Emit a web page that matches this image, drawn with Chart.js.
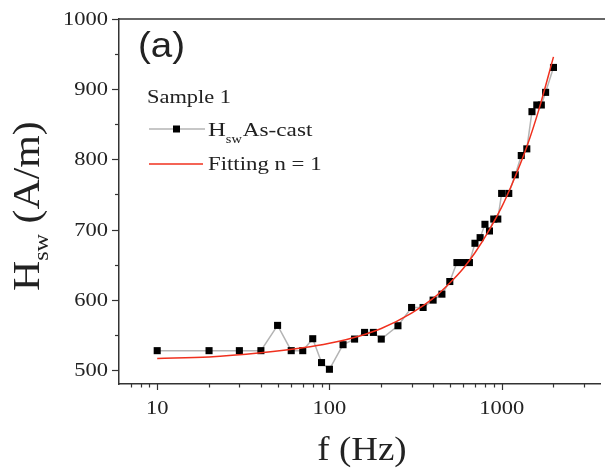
<!DOCTYPE html>
<html><head><meta charset="utf-8">
<script src="https://cdn.jsdelivr.net/npm/chart.js@4"></script>
<style>html,body{margin:0;padding:0;background:#fff;}#wrap{width:605px;height:474px;}</style>
</head><body><div id="wrap"><canvas id="c" width="605" height="474"></canvas></div>
<script>
// ---- data ----
const freq = [10,20,30,40,50,60,70,80,90,100,120,140,160,180,200,250,300,350,400,450,500,550,600,650,700,750,800,850,900,950,1000,1100,1200,1300,1400,1500,1600,1700,1800,2000];
const hsw  = [527.5,527.5,527.5,527.5,563.5,527.5,527.5,544.5,510.5,501,536,544,553.5,553.5,544,563,589,589,599.5,608,626,653,653,653,680.5,688.5,707.5,698,715,715,751.5,751.5,778,805.5,815,868,877.5,877.5,895.5,931];
const fitFreq = [10,20,40,70,100,150,200,300,400,500,600,700,850,1000,1150,1400,1650,2000];
const fitH    = [516.5,518.5,524.5,531.5,538,548.5,559,581,602,624,645,667,700,732,765,818,872,946];
const xTickLabels = [10,100,1000];
const xMinorTicks = [7,8,9,20,30,40,50,60,70,80,90,200,300,400,500,600,700,800,900,2000,3000];
const yTickLabels = [500,600,700,800,900,1000];
const yMinorTicks = [550,650,750,850,950];

const SERIF = '"Liberation Serif","Times New Roman",serif';
const SANS = '"Liberation Sans",Arial,sans-serif';
const INK = '#222';

function txt(ctx, s, x, y, size, sx, align, fam) {
  ctx.save();
  ctx.font = size + 'px ' + (fam || SERIF);
  ctx.fillStyle = INK;
  ctx.textBaseline = 'alphabetic';
  const w = ctx.measureText(s).width * sx;
  let x0 = x;
  if (align === 'center') x0 = x - w / 2;
  else if (align === 'right') x0 = x - w;
  ctx.translate(x0, y);
  ctx.scale(sx, 1);
  ctx.textAlign = 'left';
  ctx.fillText(s, 0, 0);
  ctx.restore();
  return w;
}

const decor = {
  id: 'decor',
  afterDraw(chart) {
    const ctx = chart.ctx;
    const xs = chart.scales.x, ys = chart.scales.y;
    const a = chart.chartArea;
    ctx.save();
    ctx.strokeStyle = '#333';
    ctx.lineWidth = 1.5;
    // top frame line
    ctx.beginPath(); ctx.moveTo(a.left, a.top); ctx.lineTo(605, a.top); ctx.stroke();
    ctx.lineWidth = 1.2;
    // x ticks
    xTickLabels.forEach(v => { const p = Math.round(xs.getPixelForValue(v)) + 0.5; ctx.beginPath(); ctx.moveTo(p, a.bottom); ctx.lineTo(p, a.bottom + 6); ctx.stroke(); });
    xMinorTicks.forEach(v => { const p = Math.round(xs.getPixelForValue(v)) + 0.5; ctx.beginPath(); ctx.moveTo(p, a.bottom); ctx.lineTo(p, a.bottom + 3.5); ctx.stroke(); });
    // y ticks
    yTickLabels.forEach(v => { const p = Math.round(ys.getPixelForValue(v)) + 0.5; ctx.beginPath(); ctx.moveTo(a.left, p); ctx.lineTo(a.left - 7, p); ctx.stroke(); });
    yMinorTicks.forEach(v => { const p = Math.round(ys.getPixelForValue(v)) + 0.5; ctx.beginPath(); ctx.moveTo(a.left, p); ctx.lineTo(a.left - 4, p); ctx.stroke(); });
    ctx.restore();
    // tick labels
    xTickLabels.forEach(v => txt(ctx, String(v), xs.getPixelForValue(v), 414, 18, 1.25, 'center'));
    yTickLabels.forEach(v => txt(ctx, String(v), 108, ys.getPixelForValue(v) + 6, 18, 1.25, 'right'));
    // x title
    txt(ctx, 'f (Hz)', 362, 460, 33, 1.12, 'center');
    // y title (rotated)
    ctx.save();
    ctx.translate(39, 291);
    ctx.rotate(-Math.PI / 2);
    let cx = 0;
    cx += txt(ctx, 'H', cx, 0, 38, 1.1, 'left');
    cx += txt(ctx, 'sw', cx, 9, 22, 1.1, 'left');
    txt(ctx, ' (A/m)', cx, 0, 38, 1.1, 'left');
    ctx.restore();
    // panel label
    txt(ctx, '(a)', 138, 57, 35, 1.1, 'left', SANS);
    // legend
    txt(ctx, 'Sample 1', 147, 103, 19, 1.18, 'left');
    ctx.save();
    ctx.strokeStyle = '#b4b4b4'; ctx.lineWidth = 1.5;
    ctx.beginPath(); ctx.moveTo(149, 129); ctx.lineTo(205, 129); ctx.stroke();
    ctx.fillStyle = '#000'; ctx.fillRect(173, 125.5, 7, 7);
    ctx.strokeStyle = '#f0301e'; ctx.lineWidth = 1.5;
    ctx.beginPath(); ctx.moveTo(149, 164); ctx.lineTo(203, 164); ctx.stroke();
    ctx.restore();
    let lx = 208;
    lx += txt(ctx, 'H', lx, 136, 19, 1.3, 'left');
    lx += txt(ctx, 'sw', lx, 143, 12, 1.2, 'left');
    txt(ctx, 'As-cast', lx + 1, 136, 19, 1.22, 'left');
    txt(ctx, 'Fitting n = 1', 208, 170, 19, 1.2, 'left');
  }
};

new Chart(document.getElementById('c'), {
  type: 'scatter',
  data: {
    datasets: [
      {
        label: 'Fitting n = 1',
        data: fitFreq.map((f, i) => ({x: f, y: fitH[i]})),
        showLine: true, borderColor: '#f0301e', borderWidth: 1.5,
        pointRadius: 0, cubicInterpolationMode: 'monotone', order: 0
      },
      {
        label: 'Hsw As-cast',
        data: freq.map((f, i) => ({x: f, y: hsw[i]})),
        showLine: true, borderColor: '#b4b4b4', borderWidth: 1.5,
        pointStyle: 'rect', pointRadius: 5, pointBorderWidth: 0,
        pointBackgroundColor: '#000', pointBorderColor: '#000', order: 1
      }
    ]
  },
  options: {
    responsive: false, animation: false, devicePixelRatio: 1,
    layout: {padding: {top: 19, left: 0, right: 0, bottom: 0}},
    plugins: {legend: {display: false}, tooltip: {enabled: false}},
    scales: {
      x: {
        type: 'logarithmic', min: 6, max: 3725, position: 'bottom',
        ticks: {display: false},
        grid: {display: false},
        border: {display: true, color: '#333', width: 1.5},
        afterFit(s) { s.height = 90; }
      },
      y: {
        type: 'linear', min: 480, max: 1000,
        ticks: {display: false},
        grid: {display: false},
        border: {display: true, color: '#333', width: 1.5},
        afterFit(s) { s.width = 119; }
      }
    }
  },
  plugins: [decor]
});
</script>
</body></html>
